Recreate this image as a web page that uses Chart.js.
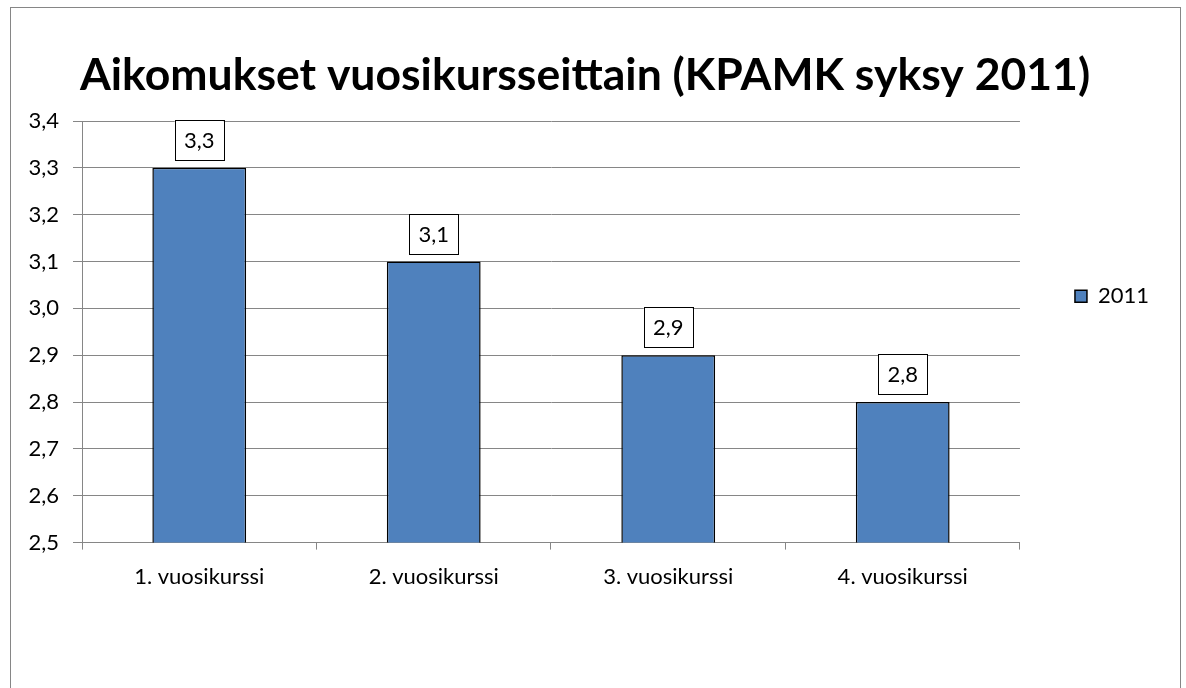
<!DOCTYPE html>
<html>
<head>
<meta charset="utf-8">
<script src="https://cdn.jsdelivr.net/npm/chart.js@4.4.0/dist/chart.umd.min.js"></script>
<style>
    body { margin: 0; background: #fff; overflow: hidden; }
    #frame { position: absolute; left: 10px; top: 7px; width: 1169px; height: 700px; border: 1px solid #868686; }
    canvas { display: block; }
</style>
</head>
<body>
<div id="frame">
    <canvas id="chart" width="1169" height="680"></canvas>
</div>
<script>
const chartTitle = 'Aikomukset vuosikursseittain (KPAMK syksy 2011)';
const categories = ['1. vuosikurssi', '2. vuosikurssi', '3. vuosikurssi', '4. vuosikurssi'];
const seriesName = '2011';
const values = [3.3, 3.1, 2.9, 2.8];
const yMin = 2.5;
const yMax = 3.4;
const yStep = 0.1;

const FONT = 'Lato, "Open Sans", sans-serif';
const GRID = '#868686';

// comma as decimal separator
const fmt = v => v.toFixed(1).replace('.', ',');

// boxed value labels above each bar
const boxLabels = {
    id: 'boxLabels',
    afterDatasetsDraw(chart) {
        const ctx = chart.ctx;
        const meta = chart.getDatasetMeta(0);
        ctx.save();
        ctx.font = '22px ' + FONT;
        ctx.textAlign = 'center';
        ctx.textBaseline = 'middle';
        meta.data.forEach((bar, i) => {
            const w = 49, h = 40;
            const x = bar.x - w / 2;
            const y = bar.y - 8 - h;
            ctx.fillStyle = '#fff';
            ctx.fillRect(x, y, w, h);
            ctx.strokeStyle = '#000';
            ctx.lineWidth = 1;
            ctx.strokeRect(Math.round(x) + 0.5, Math.round(y) + 0.5, w, h);
            ctx.fillStyle = '#000';
            ctx.fillText(fmt(values[i]), bar.x, y + h / 2 + 1);
        });
        ctx.restore();
    }
};

new Chart(document.getElementById('chart'), {
    type: 'bar',
    data: {
        labels: categories,
        datasets: [{
            label: seriesName,
            data: values,
            backgroundColor: '#4F81BD',
            borderColor: '#000',
            borderWidth: 1.5,
            borderSkipped: 'start',
            barPercentage: 0.4,
            categoryPercentage: 1
        }]
    },
    options: {
        responsive: false,
        animation: false,
        layout: { padding: { left: 0, right: 21, top: 0, bottom: 84 } },
        plugins: {
            title: {
                display: true,
                text: chartTitle,
                color: '#000',
                font: { family: FONT, size: 44.5, weight: 'bold', lineHeight: '50px' },
                padding: { top: 43, bottom: 20 }
            },
            legend: {
                position: 'right',
                align: 'start',
                fullSize: false,
                title: { display: true, text: ' ', font: { size: 1 }, padding: { top: 108, bottom: 0 } },
                labels: {
                    color: '#000',
                    font: { family: FONT, size: 22 },
                    boxWidth: 12,
                    boxHeight: 12,
                    padding: 55
                }
            },
            tooltip: { enabled: false }
        },
        scales: {
            x: {
                grid: { offset: true, drawOnChartArea: false, color: GRID, tickLength: 7 },
                border: { color: GRID, width: 1 },
                ticks: { color: '#000', font: { family: FONT, size: 22 }, padding: 14 }
            },
            y: {
                min: yMin,
                max: yMax,
                afterFit(scale) { scale.width = 71; },
                ticks: {
                    stepSize: yStep,
                    color: '#000',
                    font: { family: FONT, size: 22 },
                    padding: 14,
                    callback: v => fmt(v)
                },
                grid: { color: GRID, tickLength: 9 },
                border: { color: GRID, width: 1 }
            }
        }
    },
    plugins: [boxLabels]
});
</script>
</body>
</html>
